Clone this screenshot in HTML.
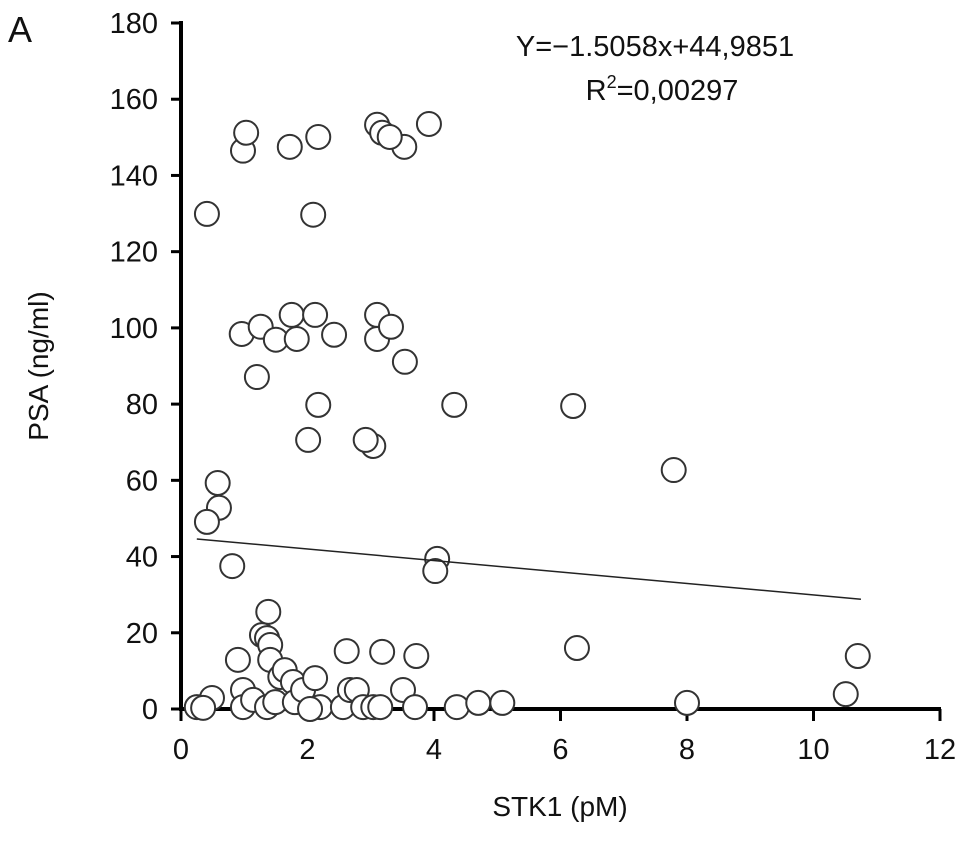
<!DOCTYPE html>
<html><head><meta charset="utf-8"><style>
body{margin:0;background:#fff}
svg text{font-family:"Liberation Sans",Arial,sans-serif;fill:#111}
</style></head><body>
<svg id="chart" width="969" height="838" viewBox="0 0 969 838">
<text x="8" y="42" font-size="36">A</text>
<g id="axes"></g>
<g id="points"></g>
<g id="fit"></g>
<text x="655" y="56" font-size="29" text-anchor="middle">Y=−1.5058x+44,9851</text>
<text x="662" y="100" font-size="29" text-anchor="middle">R<tspan dy="-12" font-size="18">2</tspan><tspan dy="12">=0,00297</tspan></text>
<text x="560" y="816" font-size="28" text-anchor="middle">STK1 (pM)</text>
<text transform="translate(48,366) rotate(-90)" font-size="28" text-anchor="middle">PSA (ng/ml)</text>
</svg>
<script>
const xTicks=[0,2,4,6,8,10,12];
const yTicks=[0,20,40,60,80,100,120,140,160,180];
const xVals=[0.41,0.98,1.03,1.72,2.17,2.09,3.10,3.18,3.53,3.30,3.92,
0.96,1.26,1.20,1.50,1.75,1.83,2.12,2.17,2.42,3.10,3.10,3.32,3.54,2.01,3.04,2.92,4.32,7.79,6.20,
0.58,0.60,0.41,0.81,4.05,4.02,
1.38,1.28,1.36,1.41,1.41,0.90,2.62,3.18,3.72,0.98,0.49,0.25,0.35,0.98,1.14,1.36,1.49,1.57,1.64,1.77,1.80,1.93,2.12,2.20,2.04,2.56,2.67,2.78,2.88,3.04,3.15,3.51,3.70,4.36,4.70,5.08,6.26,8.00,10.51,10.70];
const yVals=[129.9,146.5,151.2,147.5,150.1,129.7,153.3,151.2,147.5,150.1,153.5,
98.4,100.3,87.1,96.9,103.4,97.1,103.4,79.8,98.2,103.4,97.1,100.3,91.1,70.6,69.0,70.6,79.8,62.7,79.5,
59.3,52.8,49.1,37.5,39.4,36.2,
25.5,19.4,18.6,16.8,12.9,12.9,15.2,15.0,13.9,5.0,2.9,0.5,0.3,0.5,2.4,0.5,1.8,8.4,10.2,7.1,1.8,5.0,8.1,0.5,0.0,0.5,5.0,5.0,0.5,0.5,0.5,5.0,0.5,0.5,1.6,1.6,16.0,1.6,3.9,13.9];
const slope=-1.5058, intercept=44.9851, fitRange=[0.25,10.75];
const X=v=>181+v*(940-181)/12;
const Y=v=>709-v*(709-23)/180;
const NS="http://www.w3.org/2000/svg";
function mk(t,a,p){const e=document.createElementNS(NS,t);for(const k in a)e.setAttribute(k,a[k]);p.appendChild(e);return e;}
const ax=document.getElementById('axes');
const yl=mk('line',{x1:181,y1:21,x2:181,y2:711,stroke:'#000','stroke-width':4},ax);


const xl=mk('line',{x1:179,y1:709,x2:941,y2:709,stroke:'#000','stroke-width':4},ax);


yTicks.forEach(v=>{
 const t=mk('line',{x1:171,y1:Y(v),x2:181,y2:Y(v),stroke:'#000','stroke-width':3},ax);
 
 
 const l=mk('text',{x:158,y:Y(v)+10,'font-size':29,'text-anchor':'end'},ax);l.textContent=v;
 
 
});
xTicks.forEach(v=>{
 const t=mk('line',{x1:X(v),y1:709,x2:X(v),y2:721,stroke:'#000','stroke-width':3},ax);
 
 
 const l=mk('text',{x:X(v),y:759,'font-size':29,'text-anchor':'middle'},ax);l.textContent=v;
 
 
});
const pg=document.getElementById('points');
xVals.forEach((x,i)=>{
 const c=mk('circle',{cx:X(x),cy:Y(yVals[i]),r:12,fill:'#fff',stroke:'#333','stroke-width':2},pg);
 
 
});
const f=mk('line',{x1:X(fitRange[0]),y1:Y(slope*fitRange[0]+intercept),x2:X(fitRange[1]),y2:Y(slope*fitRange[1]+intercept),stroke:'#222','stroke-width':1.5},document.getElementById('fit'));


</script>
</body></html>
